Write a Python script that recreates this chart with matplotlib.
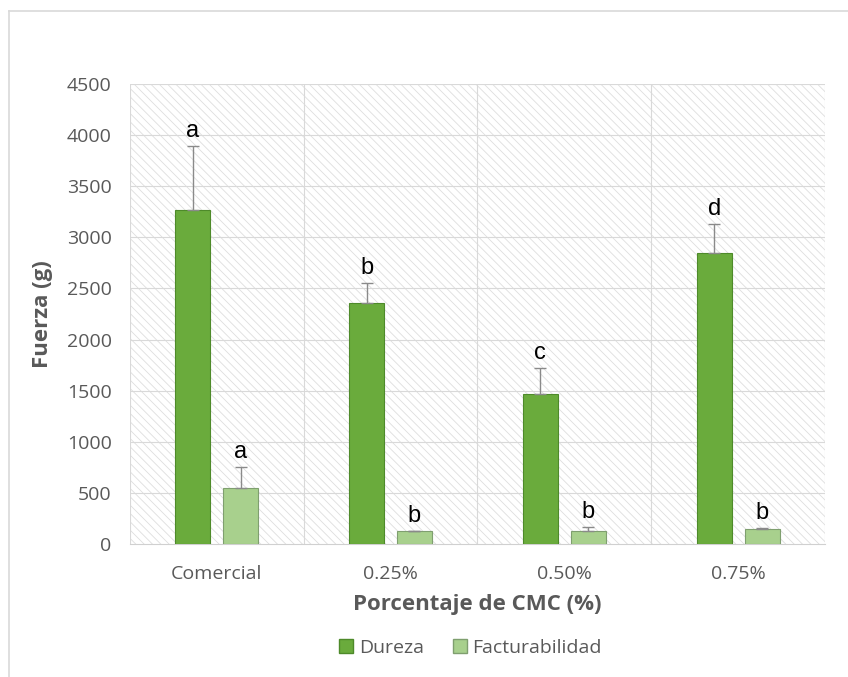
import matplotlib.pyplot as plt
import numpy as np
from matplotlib.lines import Line2D
from matplotlib.patches import Patch

# Datos de textura: fuerza media (g) y desviación por tratamiento
categorias = ['Comercial', '0.25%', '0.50%', '0.75%']
dureza = [3270, 2355, 1465, 2845]
dureza_err = [620, 195, 255, 285]
facturabilidad = [545, 125, 128, 145]
facturabilidad_err = [205, 0, 35, 10]
letras_dureza = ['a', 'b', 'c', 'd']
letras_fact = ['a', 'b', 'b', 'b']

color_dureza = '#6aab3c'
color_fact = '#a8d08d'
gris_texto = '#595959'

plt.rcParams['font.family'] = ['Open Sans', 'DejaVu Sans']
plt.rcParams['hatch.linewidth'] = 0.6
plt.rcParams['hatch.color'] = '#dedede'

fig = plt.figure(figsize=(8.48, 6.77), dpi=100)
ax = fig.add_axes([0.153, 0.1965, 0.82, 0.6795])

# fondo rayado del área de trazado
ax.patch.set_facecolor('white')
ax.patch.set_hatch('\\\\\\\\')
ax.patch.set_edgecolor('#dedede')
ax.patch.set_linewidth(0)

x = np.arange(len(categorias))
ancho = 0.2
desp = 0.138

ax.bar(x - desp, dureza, ancho, color=color_dureza, edgecolor='#4e8a2a',
       linewidth=0.8, zorder=3)
ax.bar(x + desp, facturabilidad, ancho, color=color_fact, edgecolor='#7f9f6f',
       linewidth=0.8, zorder=3)

ax.errorbar(x - desp, dureza, yerr=[np.zeros(4), dureza_err], fmt='none',
            ecolor='#8a8a8a', elinewidth=1, capsize=4, zorder=4)
ax.errorbar(x + desp, facturabilidad, yerr=[np.zeros(4), facturabilidad_err],
            fmt='none', ecolor='#8a8a8a', elinewidth=1, capsize=4, zorder=4)

# letras de significancia sobre las barras
for i in range(len(categorias)):
    ax.annotate(letras_dureza[i], (x[i] - desp, dureza[i] + dureza_err[i]),
                xytext=(0, 3), textcoords='offset points', ha='center',
                va='bottom', fontsize=17, family='Liberation Sans', zorder=5)
    ax.annotate(letras_fact[i], (x[i] + desp, facturabilidad[i] + facturabilidad_err[i]),
                xytext=(0, 3), textcoords='offset points', ha='center',
                va='bottom', fontsize=17, family='Liberation Sans', zorder=5)

ax.set_xlim(-0.5, 3.5)
ax.set_ylim(0, 4500)
ax.set_yticks(np.arange(0, 4501, 500))
ax.set_xticks(x)
ax.set_xticklabels(categorias)

# rejilla horizontal y separadores verticales entre categorías
for yv in np.arange(500, 4501, 500):
    ax.axhline(yv, color='#d9d9d9', lw=0.8, zorder=1)
for xv in np.arange(-0.5, 3.6, 1):
    ax.axvline(xv, color='#d9d9d9', lw=0.8, zorder=1)

for s in ['top', 'right', 'left']:
    ax.spines[s].set_visible(False)
ax.spines['bottom'].set_color('#d0d0d0')
ax.tick_params(axis='both', length=0, labelsize=14, labelcolor=gris_texto)
ax.tick_params(axis='x', pad=15)
ax.tick_params(axis='y', pad=13)

ax.set_ylabel('Fuerza (g)', fontsize=16, fontweight='bold', color=gris_texto,
              labelpad=10)
ax.set_xlabel('Porcentaje de CMC (%)', fontsize=16, fontweight='bold',
              color=gris_texto, labelpad=8)

handles = [Patch(facecolor=color_dureza, edgecolor='#4e8a2a', label='Dureza'),
           Patch(facecolor=color_fact, edgecolor='#7f9f6f', label='Facturabilidad')]
leg = fig.legend(handles=handles, loc='center', bbox_to_anchor=(0.555, 0.043),
                 ncol=2, frameon=False, fontsize=14, handlelength=0.7,
                 handleheight=0.7, handletextpad=0.3, columnspacing=1.5)
for t in leg.get_texts():
    t.set_color(gris_texto)

# borde exterior del gráfico
fig.add_artist(Line2D([9 / 848, 9 / 848], [0, 1 - 11 / 677], color='#d9d9d9', lw=1.2))
fig.add_artist(Line2D([9 / 848, 1], [1 - 11 / 677, 1 - 11 / 677], color='#d9d9d9', lw=1.2))

fig.savefig('out.png', dpi=100)
